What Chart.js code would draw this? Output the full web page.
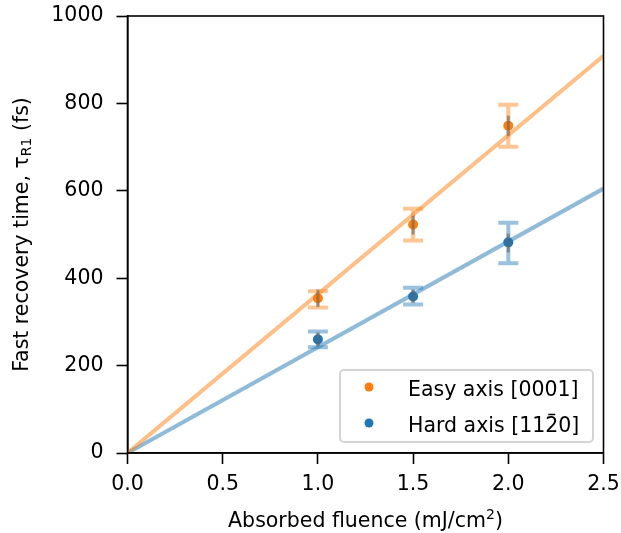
<!DOCTYPE html>
<html>
<head>
<meta charset="utf-8">
<script src="https://cdn.jsdelivr.net/npm/chart.js@4.4.0/dist/chart.umd.min.js"></script>
<style>
	html, body { margin: 0; padding: 0; background: #fff; }
	#wrap { width: 621px; height: 533px; }
</style>
</head>
<body>
<div id="wrap"><canvas id="chart" width="621" height="533"></canvas></div>
<script>
// data
var FLUENCE = [1.0, 1.5, 2.0];
var EASY_TAU = [354, 523, 749];
var EASY_ERR_LO = [333, 486, 701];   // wide (light) bars
var EASY_ERR_HI = [370, 559, 797];
var EASY_SD_LO = [334, 500, 726];    // narrow grey bars
var EASY_SD_HI = [374, 543, 772];
var HARD_TAU = [260, 358, 482];
var HARD_ERR_LO = [242, 340, 434];
var HARD_ERR_HI = [278, 378, 527];
var HARD_SD_LO = [244, 344, 459];
var HARD_SD_HI = [276, 374, 502];
var FIT_X = [0, 2.5];
var EASY_FIT = [0, 909];
var HARD_FIT = [0, 605];
var X_TICKS = [0, 0.5, 1.0, 1.5, 2.0, 2.5];
var Y_TICKS = [0, 200, 400, 600, 800, 1000];

var ORANGE = '#ff7f0e';
var BLUE = '#1f77b4';
var FONT = "'DejaVu Sans', sans-serif";
var FS = 20.5, FS_SMALL = 14;
var BAR = '\u0305'; // combining overline, drawn by hand below

function pts(xs, ys){
	var out = [];
	for (var i = 0; i < xs.length; i++) out.push({x: xs[i], y: ys[i]});
	return out;
}

function rgba(hex, a){
	var r = parseInt(hex.substr(1,2),16), g = parseInt(hex.substr(3,2),16), b = parseInt(hex.substr(5,2),16);
	return 'rgba('+r+','+g+','+b+','+a+')';
}

// text with hand drawn overlines (canvas does not place combining marks well)
function fillBarText(ctx, text, x, y){
	var plain = text.split(BAR).join('');
	ctx.fillText(plain, x, y);
	var pos = 0;
	for (var i = 0; i < text.length; i++){
		if (text[i] === BAR){
			var before = ctx.measureText(plain.substr(0, pos - 1)).width;
			var w = ctx.measureText(plain[pos - 1]).width;
			ctx.save();
			ctx.strokeStyle = ctx.fillStyle;
			ctx.lineWidth = 1.5;
			ctx.beginPath();
			ctx.moveTo(x + before + w/2 - 3.5, y - 17);
			ctx.lineTo(x + before + w/2 + 3.5, y - 17);
			ctx.stroke();
			ctx.restore();
		} else {
			pos++;
		}
	}
}

var errorBars = {
	id: 'errorBars',
	beforeDatasetDraw: function(chart, args){
		var ds = chart.data.datasets[args.index];
		if (!ds.errLo) return;
		var ctx = chart.ctx, xs = chart.scales.x, ys = chart.scales.y;
		ctx.save();
		ctx.strokeStyle = rgba(ds.baseColor, 0.45);
		ctx.lineWidth = 4;
		for (var i = 0; i < ds.data.length; i++){
			var px = xs.getPixelForValue(ds.data[i].x);
			var lo = ys.getPixelForValue(ds.errLo[i]);
			var hi = ys.getPixelForValue(ds.errHi[i]);
			ctx.beginPath();
			ctx.moveTo(px, lo); ctx.lineTo(px, hi);
			ctx.moveTo(px-10, lo); ctx.lineTo(px+10, lo);
			ctx.moveTo(px-10, hi); ctx.lineTo(px+10, hi);
			ctx.stroke();
		}
		ctx.restore();
	},
	afterDatasetsDraw: function(chart){
		var ctx = chart.ctx, xs = chart.scales.x, ys = chart.scales.y;
		ctx.save();
		ctx.strokeStyle = 'rgba(100,100,100,0.6)';
		ctx.lineWidth = 3;
		chart.data.datasets.forEach(function(ds){
			if (!ds.sdLo) return;
			for (var i = 0; i < ds.data.length; i++){
				var px = xs.getPixelForValue(ds.data[i].x);
				ctx.beginPath();
				ctx.moveTo(px, ys.getPixelForValue(ds.sdLo[i]));
				ctx.lineTo(px, ys.getPixelForValue(ds.sdHi[i]));
				ctx.stroke();
			}
		});
		ctx.restore();
	}
};

var frameAndText = {
	id: 'frameAndText',
	afterDraw: function(chart){
		var ctx = chart.ctx, a = chart.chartArea;
		ctx.save();
		// spines
		ctx.strokeStyle = '#000';
		ctx.lineWidth = 1.6;
		ctx.strokeRect(a.left, a.top, a.right - a.left, a.bottom - a.top);

		// legend
		var lx = 340, ly = 370, lw = 253, lh = 72;
		ctx.beginPath();
		ctx.roundRect(lx, ly, lw, lh, 4);
		ctx.fillStyle = 'rgba(255,255,255,0.85)';
		ctx.fill();
		ctx.strokeStyle = '#d4d4d4';
		ctx.lineWidth = 2;
		ctx.stroke();
		var items = chart.data.datasets.filter(function(d){ return d.inLegend; });
		ctx.font = FS + 'px ' + FONT;
		ctx.textBaseline = 'alphabetic';
		ctx.textAlign = 'left';
		items.forEach(function(d, i){
			var cy = 387 + i * 36;
			ctx.beginPath();
			ctx.arc(369, cy, 4.5, 0, Math.PI*2);
			ctx.fillStyle = d.baseColor;
			ctx.fill();
			ctx.fillStyle = '#000';
			fillBarText(ctx, d.label, 408, cy + 8.5);
		});

		// x title with superscript
		ctx.fillStyle = '#000';
		ctx.textBaseline = 'alphabetic';
		var xa = 'Absorbed fluence (mJ/cm', xb = '2', xc = ')';
		ctx.font = FS + 'px ' + FONT;
		var wa = ctx.measureText(xa).width, wc = ctx.measureText(xc).width;
		ctx.font = FS_SMALL + 'px ' + FONT;
		var wb = ctx.measureText(xb).width;
		var x0 = (a.left + a.right)/2 - (wa + wb + wc)/2, yb = 527;
		ctx.font = FS + 'px ' + FONT; ctx.fillText(xa, x0, yb);
		ctx.font = FS_SMALL + 'px ' + FONT; ctx.fillText(xb, x0 + wa, yb - 8);
		ctx.font = FS + 'px ' + FONT; ctx.fillText(xc, x0 + wa + wb, yb);

		// y title with subscript
		var ya = 'Fast recovery time, \u03c4', ysub = 'R1', yc = ' (fs)';
		ctx.font = FS + 'px ' + FONT;
		var va = ctx.measureText(ya).width, vc = ctx.measureText(yc).width;
		ctx.font = FS_SMALL + 'px ' + FONT;
		var vb = ctx.measureText(ysub).width;
		ctx.translate(28, (a.top + a.bottom)/2);
		ctx.rotate(-Math.PI/2);
		var s = -(va + vb + vc)/2;
		ctx.font = FS + 'px ' + FONT; ctx.fillText(ya, s, 0);
		ctx.font = FS_SMALL + 'px ' + FONT; ctx.fillText(ysub, s + va, 3);
		ctx.font = FS + 'px ' + FONT; ctx.fillText(yc, s + va + vb, 0);
		ctx.restore();
	}
};

var config = {
	type: 'scatter',
	data: {
		datasets: [{
			label: 'Easy axis [0001]',
			data: pts(FLUENCE, EASY_TAU),
			baseColor: ORANGE,
			inLegend: true,
			errLo: EASY_ERR_LO, errHi: EASY_ERR_HI,
			sdLo: EASY_SD_LO, sdHi: EASY_SD_HI,
			backgroundColor: ORANGE,
			borderWidth: 0,
			pointRadius: 5,
			pointHoverRadius: 5
		}, {
			label: 'Hard axis [112' + BAR + '0]',
			data: pts(FLUENCE, HARD_TAU),
			baseColor: BLUE,
			inLegend: true,
			errLo: HARD_ERR_LO, errHi: HARD_ERR_HI,
			sdLo: HARD_SD_LO, sdHi: HARD_SD_HI,
			backgroundColor: BLUE,
			borderWidth: 0,
			pointRadius: 5,
			pointHoverRadius: 5
		}, {
			type: 'line',
			label: 'fit easy',
			data: pts(FIT_X, EASY_FIT),
			borderColor: rgba(ORANGE, 0.5),
			borderWidth: 4,
			pointRadius: 0,
			fill: false
		}, {
			type: 'line',
			label: 'fit hard',
			data: pts(FIT_X, HARD_FIT),
			borderColor: rgba(BLUE, 0.5),
			borderWidth: 4,
			pointRadius: 0,
			fill: false
		}]
	},
	options: {
		responsive: false,
		animation: false,
		layout: { padding: { left: 0, top: 16, right: 17.5, bottom: 0 } },
		plugins: { legend: { display: false }, tooltip: { enabled: false } },
		scales: {
			x: {
				type: 'linear', min: 0, max: 2.5,
				afterFit: function(s){ s.height = 80; s.paddingLeft = 0; s.paddingRight = 0; },
				afterBuildTicks: function(s){ s.ticks = X_TICKS.map(function(v){ return {value: v}; }); },
				ticks: { color: '#000', font: { family: FONT, size: FS }, padding: 8,
					callback: function(v){ return Number(v).toFixed(1); } },
				grid: { drawOnChartArea: false, drawTicks: true, tickLength: 11, color: '#000', tickWidth: 1.6 },
				border: { display: true, color: '#000', width: 1.6 }
			},
			y: {
				type: 'linear', min: 0, max: 1000,
				afterFit: function(s){ s.width = 127.5; s.paddingTop = 0; s.paddingBottom = 0; },
				afterBuildTicks: function(s){ s.ticks = Y_TICKS.map(function(v){ return {value: v}; }); },
				ticks: { color: '#000', font: { family: FONT, size: FS }, padding: 13,
					callback: function(v){ return String(v); } },
				grid: { drawOnChartArea: false, drawTicks: true, tickLength: 11, color: '#000', tickWidth: 1.6 },
				border: { display: true, color: '#000', width: 1.6 }
			}
		}
	},
	plugins: [errorBars, frameAndText]
};

new Chart(document.getElementById('chart').getContext('2d'), config);
</script>
</body>
</html>
